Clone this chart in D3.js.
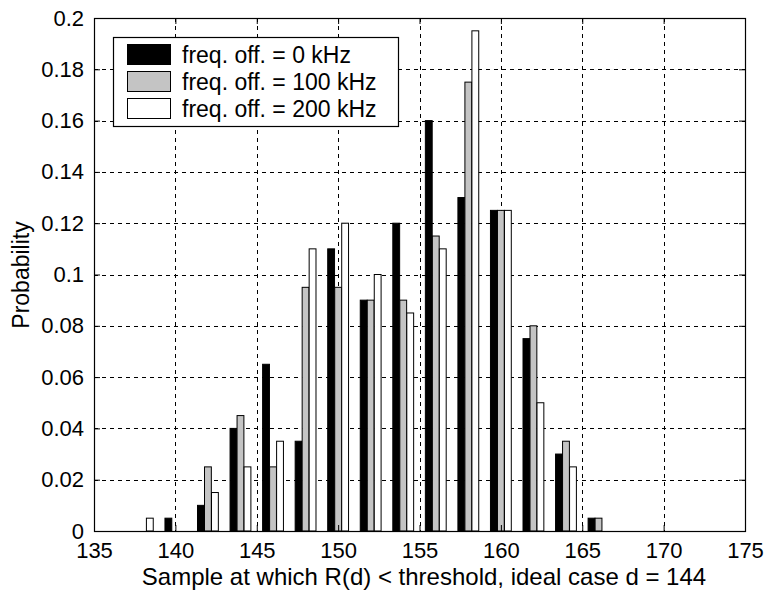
<!DOCTYPE html>
<html>
<head>
<meta charset="utf-8">
<script src="https://cdn.jsdelivr.net/npm/d3@7"></script>
<style>
body { margin: 0; background: #fff; }
text { font-family: "Liberation Sans", Arial, sans-serif; fill: #000; }
</style>
</head>
<body>
<script>
// chart data
var samples = [138,140,142,144,146,148,150,152,154,156,158,160,162,164,166];
var freq0   = [0,0.005,0.01,0.04,0.065,0.035,0.11,0.09,0.12,0.16,0.13,0.125,0.075,0.03,0.005];
var freq100 = [0,0,0.025,0.045,0.025,0.095,0.095,0.09,0.09,0.115,0.175,0.125,0.08,0.035,0.005];
var freq200 = [0.005,0,0.015,0.025,0.035,0.11,0.12,0.1,0.085,0.11,0.195,0.125,0.05,0.025,0];
var seriesNames = ['freq. off. = 0 kHz','freq. off. = 100 kHz','freq. off. = 200 kHz'];
var xTicks = [135,140,145,150,155,160,165,170,175];
var yTicks = [0,0.02,0.04,0.06,0.08,0.1,0.12,0.14,0.16,0.18,0.2];

var width = 769;
var height = 596;
// plot box edges (don't use "top", it is window.top)
var pLeft = 94, pRight = 745, pTop = 18, pBottom = 531;

var svg = d3.select('body').append('svg')
.attr('width',width).attr('height',height);

var x = d3.scaleLinear().domain([135,175]).range([pLeft,pRight]);
var y = d3.scaleLinear().domain([0,0.2]).range([pBottom,pTop]);

// dashed grid
var grid = svg.append('g').attr('stroke','#000').attr('stroke-width',1)
.attr('stroke-dasharray','4,4').attr('shape-rendering','crispEdges');
grid.selectAll('.gx').data(xTicks.slice(1,-1)).enter().append('line')
.attr('x1',d => Math.round(x(d))+0.5).attr('x2',d => Math.round(x(d))+0.5)
.attr('y1',pTop).attr('y2',pBottom);
grid.selectAll('.gy').data(yTicks.slice(1,-1)).enter().append('line')
.attr('x1',pLeft).attr('x2',pRight)
.attr('y1',d => Math.round(y(d))+0.5).attr('y2',d => Math.round(y(d))+0.5);

// bars: black, gray, white side by side
var colors = ['#000','#c4c4c4','#fff'];
var offsets = [-0.43,0,0.43];
var barW = 0.42;
var series = [freq0,freq100,freq200];

series.forEach(function(vals,i){
  svg.append('g').selectAll('rect').data(vals).enter().append('rect')
  .attr('x',(d,j) => x(samples[j]+offsets[i]-barW/2))
  .attr('width',x(135+barW)-x(135))
  .attr('y',d => y(d))
  .attr('height',d => y(0)-y(d))
  .attr('fill',colors[i]).attr('stroke','#000').attr('stroke-width',1);
});

// axes box
svg.append('rect').attr('x',pLeft+0.5).attr('y',pTop+0.5)
.attr('width',pRight-pLeft).attr('height',pBottom-pTop)
.attr('fill','none').attr('stroke','#000').attr('stroke-width',1.2);

// inward ticks on all four sides
var xAxisB = d3.axisBottom(x).tickValues(xTicks).tickSizeInner(-6).tickSizeOuter(0).tickPadding(11);
var xAxisT = d3.axisTop(x).tickValues(xTicks).tickSizeInner(-6).tickSizeOuter(0).tickFormat('');
var yAxisL = d3.axisLeft(y).tickValues(yTicks).tickSizeInner(-6).tickSizeOuter(0).tickPadding(10)
.tickFormat(d => d3.format('~g')(d));
var yAxisR = d3.axisRight(y).tickValues(yTicks).tickSizeInner(-6).tickSizeOuter(0).tickFormat('');

[ [xAxisB,'translate(0,'+pBottom+')'], [xAxisT,'translate(0,'+pTop+')'],
  [yAxisL,'translate('+pLeft+',0)'], [yAxisR,'translate('+pRight+',0)'] ].forEach(function(a){
  var g = svg.append('g').attr('transform',a[1]).call(a[0]);
  g.select('.domain').remove();
  g.selectAll('line').attr('stroke','#000');
  g.selectAll('text').attr('font-size',22).attr('font-family','Liberation Sans, Arial, sans-serif').attr('fill','#000');
});

// axis titles
svg.append('text').attr('x',424).attr('y',585)
.attr('text-anchor','middle').attr('font-size',24)
.text('Sample at which R(d) < threshold, ideal case d = 144');

svg.append('text').attr('transform','translate(29,275) rotate(-90)')
.attr('text-anchor','middle').attr('font-size',23)
.text('Probability');

// legend
var lg = svg.append('g');
lg.append('rect').attr('x',113.5).attr('y',37.5).attr('width',285).attr('height',89)
.attr('fill','#fff').attr('stroke','#000').attr('stroke-width',1.2);
seriesNames.forEach(function(name,i){
  var ry = 44 + i*27;
  lg.append('rect').attr('x',127.5).attr('y',ry+0.5).attr('width',43).attr('height',20)
  .attr('fill',colors[i]).attr('stroke','#000').attr('stroke-width',1);
  lg.append('text').attr('x',182).attr('y',ry+19).attr('font-size',23).text(name);
});
</script>
</body>
</html>
